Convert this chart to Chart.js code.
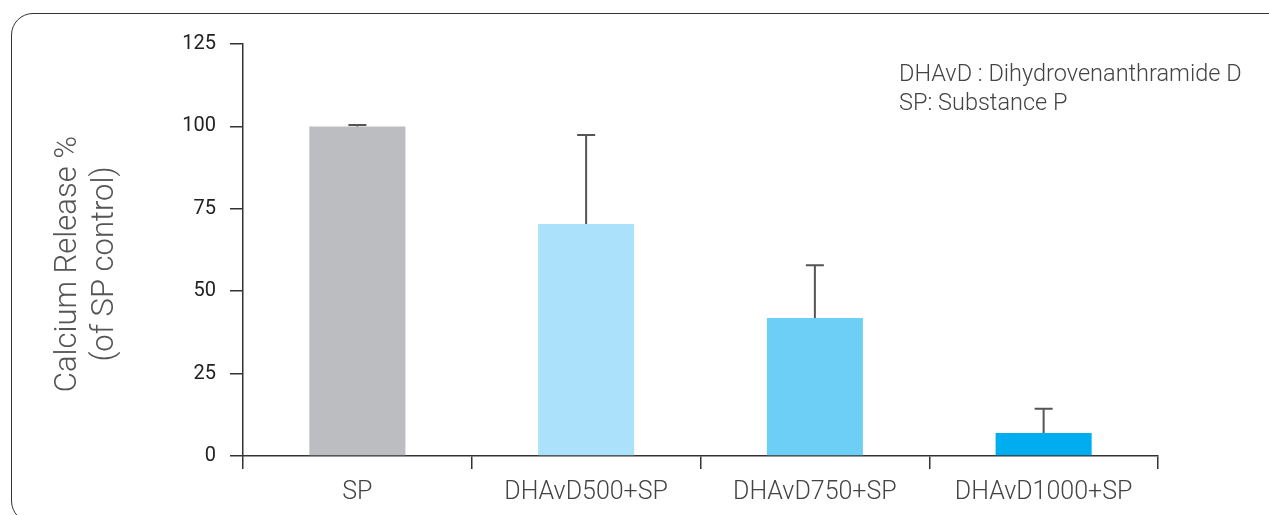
<!DOCTYPE html>
<html>
<head>
<meta charset="utf-8">
<script src="https://cdn.jsdelivr.net/npm/chart.js@4"></script>
<style>
  body { margin: 0; background: #fff; }
  #wrap { position: relative; width: 1269px; height: 515px; overflow: hidden; }
  #frame { position: absolute; left: 11px; top: 13px; width: 1280px; height: 510px;
           border: 1.5px solid #333; border-radius: 22px; box-sizing: border-box; }
  #chart { position: absolute; left: 0; top: 0; }
</style>
</head>
<body>
<div id="wrap">
  <div id="frame"></div>
  <canvas id="chart" width="1269" height="515"></canvas>
</div>
<script>
// values
var categories = ['SP', 'DHAvD500+SP', 'DHAvD750+SP', 'DHAvD1000+SP'];
var releaseMeans = [100, 70.4, 41.9, 7.0];
var releaseErrors = [0.4, 27.0, 16.0, 7.3];
var barColors = ['#bcbdc1', '#abe1fa', '#6dcff6', '#00aeef'];
var yTitleLines = ['Calcium Release %', '(of SP control)'];
var noteLines = ['DHAvD : Dihydrovenanthramide D', 'SP: Substance P'];

var lightFont = 'Roboto, "Liberation Sans", sans-serif';

// draws the upper error bar on top of each column
var errorBarPlugin = {
    id: 'errorBars',
    afterDatasetsDraw: function (chart) {
        var ctx = chart.ctx;
        var yScale = chart.scales.y;
        var meta = chart.getDatasetMeta(0);
        ctx.save();
        ctx.strokeStyle = '#555';
        ctx.lineWidth = 2;
        meta.data.forEach(function (bar, i) {
            var top = yScale.getPixelForValue(releaseMeans[i] + releaseErrors[i]);
            ctx.beginPath();
            ctx.moveTo(bar.x, bar.y);
            ctx.lineTo(bar.x, top);
            ctx.moveTo(bar.x - 9, top);
            ctx.lineTo(bar.x + 9, top);
            ctx.stroke();
        });
        ctx.restore();
    }
};

// axis title and the note in the corner
var textPlugin = {
    id: 'texts',
    afterDraw: function (chart) {
        var ctx = chart.ctx;
        ctx.save();
        ctx.fillStyle = '#555';
        ctx.font = '300 31px ' + lightFont;
        ctx.textAlign = 'center';
        ctx.textBaseline = 'middle';
        ctx.translate(68, 264);
        ctx.rotate(-Math.PI / 2);
        yTitleLines.forEach(function (line, i) {
            ctx.fillText(line, 0, i * 37);
        });
        ctx.restore();

        ctx.save();
        ctx.fillStyle = '#444';
        ctx.font = '300 23.5px ' + lightFont;
        ctx.textAlign = 'left';
        ctx.textBaseline = 'alphabetic';
        noteLines.forEach(function (line, i) {
            ctx.fillText(line, 899, 81 + i * 29);
        });
        ctx.restore();
    }
};

new Chart(document.getElementById('chart'), {
    type: 'bar',
    data: {
        labels: categories,
        datasets: [{
            data: releaseMeans,
            backgroundColor: barColors,
            borderWidth: 0,
            barPercentage: 0.42,
            categoryPercentage: 1
        }]
    },
    options: {
        responsive: false,
        animation: false,
        layout: { padding: { left: 0, right: 111, top: 44, bottom: 0 } },
        plugins: {
            legend: { display: false },
            tooltip: { enabled: false }
        },
        scales: {
            x: {
                afterFit: function (scale) { scale.height = 59; },
                border: { color: '#333', width: 1.5 },
                grid: { drawOnChartArea: false, color: '#333', lineWidth: 1.5, tickLength: 13, offset: true },
                ticks: { color: '#444', padding: 9, font: { family: lightFont, size: 25, weight: 300 } }
            },
            y: {
                min: 0,
                max: 125,
                afterFit: function (scale) { scale.width = 243; },
                border: { color: '#333', width: 1.5 },
                grid: { drawOnChartArea: false, color: '#333', lineWidth: 1.5, tickLength: 13 },
                ticks: { stepSize: 25, color: '#222', padding: 14, font: { family: lightFont, size: 20 } }
            }
        }
    },
    plugins: [errorBarPlugin, textPlugin]
});
</script>
</body>
</html>
